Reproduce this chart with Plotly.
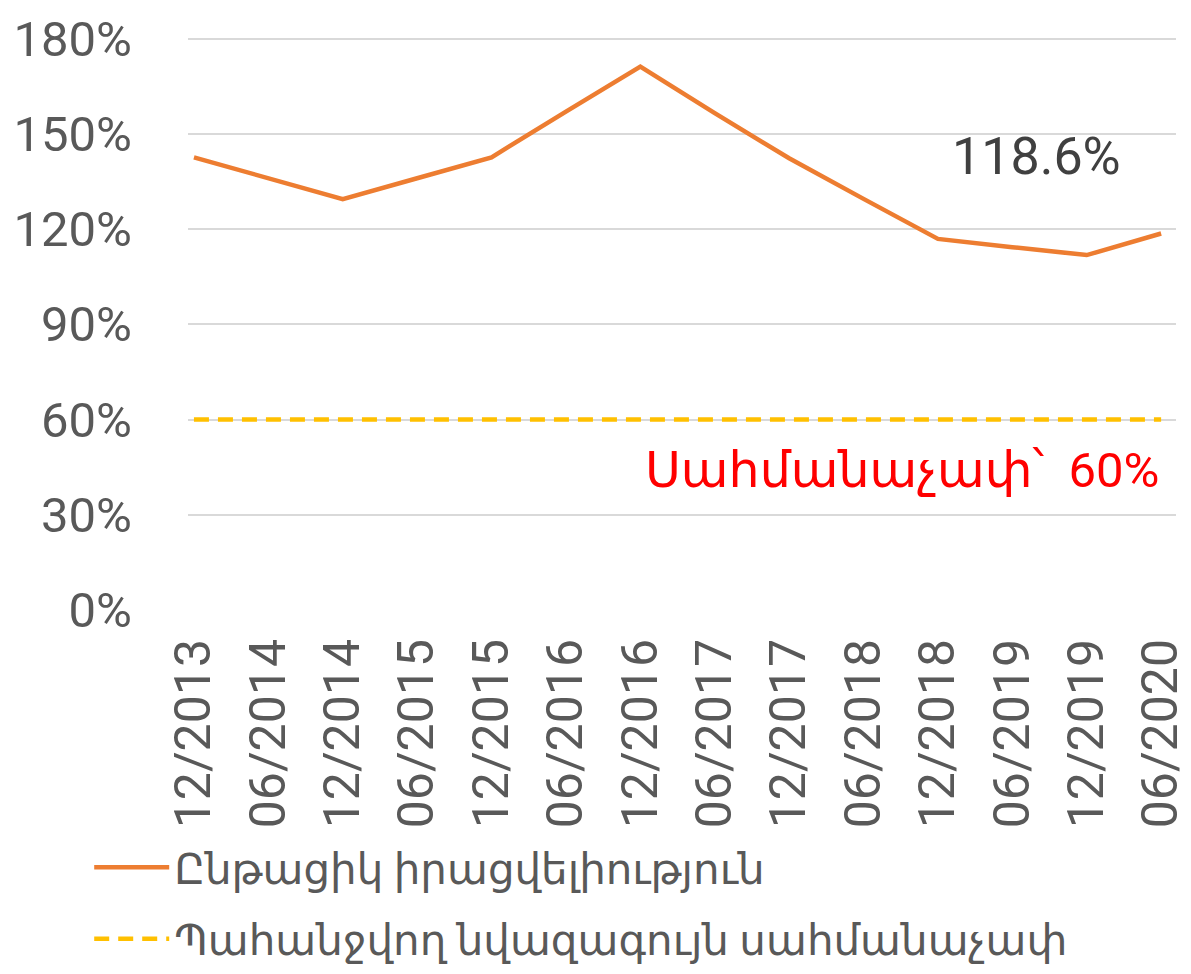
import plotly.graph_objects as go

categories = ["12/2013", "06/2014", "12/2014", "06/2015", "12/2015", "06/2016", "12/2016",
              "06/2017", "12/2017", "06/2018", "12/2018", "06/2019", "12/2019", "06/2020"]
liquidity = [142.6, 136.0, 129.4, 136.0, 142.6, 157.0, 171.2,
             156.5, 142.3, 129.5, 116.9, 114.3, 111.8, 118.6]
limit = [60] * len(categories)
y_ticks = [0, 30, 60, 90, 120, 150, 180]
y_tick_labels = [f"{v}%" for v in y_ticks]

name_liq = "Ընթացիկ իրացվելիություն"
name_lim = "Պահանջվող նվազագույն սահմանաչափ"

FONT = "Roboto, DejaVu Sans, sans-serif"

x_idx = list(range(len(categories)))

fig = go.Figure()
fig.add_trace(go.Scatter(x=x_idx, y=liquidity, mode="lines", name=name_liq,
                         line=dict(color="#ED7D31", width=4.5), legendgroup="a"))
fig.add_trace(go.Scatter(x=x_idx, y=limit, mode="lines", name=name_lim,
                         line=dict(color="#FFC000", width=4.5, dash="15px,9px"), legendgroup="b"))

fig.add_annotation(x=x_idx[-1], y=liquidity[-1], text=f"{liquidity[-1]}%", showarrow=False,
                   xanchor="center", yanchor="middle", xshift=-125, yshift=77,
                   font=dict(size=52, color="#404040", family=FONT))
fig.add_annotation(x=x_idx[-1], y=limit[-1], text="Սահմանաչափ՝  60%", showarrow=False,
                   xanchor="right", yanchor="middle", xshift=0, yshift=-51,
                   font=dict(size=49, color="#FF0000", family=FONT))

fig.update_layout(
    width=1191, height=974,
    margin=dict(l=188, r=15, t=37, b=364, autoexpand=False),
    paper_bgcolor="white", plot_bgcolor="white",
    font=dict(family=FONT, color="#595959"),
    showlegend=True,
    legend=dict(orientation="v", x=-0.1, xanchor="left", y=-0.39, yanchor="top",
                font=dict(size=42, color="#595959", family=FONT), itemwidth=75,
                tracegroupgap=14, bgcolor="rgba(0,0,0,0)"),
    xaxis=dict(tickmode="array", tickvals=x_idx, ticktext=categories, tickangle=-90,
               range=[-0.08, 13.2], showgrid=False, zeroline=False, showline=False,
               automargin=False, ticklabelstandoff=18,
               tickfont=dict(size=50, color="#595959", family=FONT), ticks=""),
    yaxis=dict(tickmode="array", tickvals=y_ticks, ticktext=y_tick_labels, range=[0, 180.5],
               showgrid=True, gridcolor="#D9D9D9", gridwidth=1.5, zeroline=False,
               showline=False, ticks="", ticklabelstandoff=55, automargin=False,
               tickfont=dict(size=49, color="#595959", family=FONT)),
)

fig.write_html("out.html", config={"displayModeBar": False},
               post_script="document.body.style.margin='0';document.body.style.overflow='hidden';")
